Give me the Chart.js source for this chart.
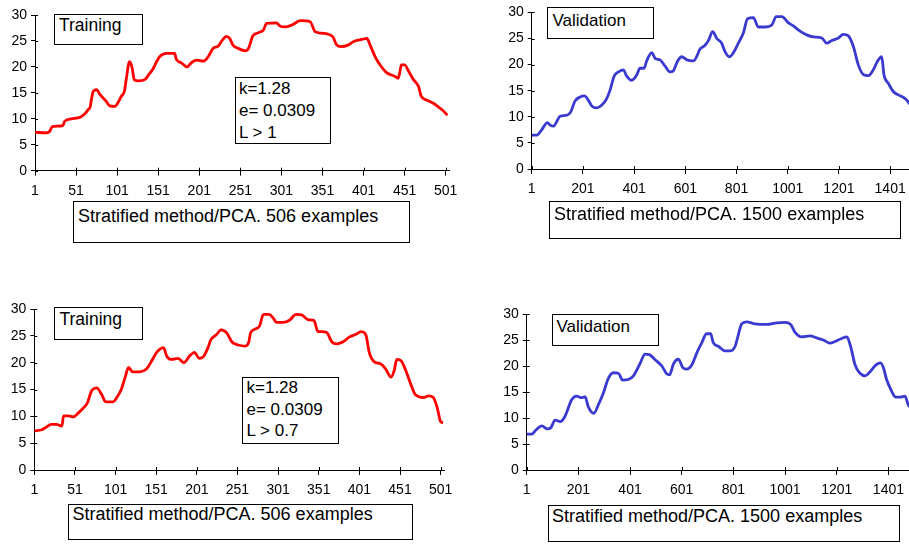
<!DOCTYPE html>
<html>
<head>
<meta charset="utf-8">
<script src="https://cdn.jsdelivr.net/npm/chart.js@4"></script>
<style>
body { margin: 0; width: 909px; height: 545px; overflow: hidden; background: #fff; position: relative; font-family: "Liberation Sans", Arial, sans-serif; }
canvas { position: absolute; left: 0; top: 0; }
.box { position: absolute; border: 1px solid #000; background: #fff; box-sizing: border-box; }
.txt { position: absolute; white-space: pre; color: #000; }
</style>
</head>
<body>
<canvas id="c1" width="960" height="545"></canvas>
<canvas id="c2" width="960" height="545"></canvas>
<canvas id="c3" width="960" height="545"></canvas>
<canvas id="c4" width="960" height="545"></canvas>
<script>
// tick labels
const trainTicks = [1, 51, 101, 151, 201, 251, 301, 351, 401, 451, 501];
const validTicks = [1, 201, 401, 601, 801, 1001, 1201, 1401];
const yTicksMax = 30;

// top left: training, L > 1
const trainX1 = [1, 15, 19, 22, 35, 37, 45, 56, 62, 66, 68, 70, 72, 76, 80, 88, 92, 98, 102, 106, 110, 112, 116, 119, 122, 127, 135, 139, 145, 149, 153, 161, 171, 173, 180, 186, 192, 198, 206, 212, 218, 224, 228, 234, 238, 242, 248, 257, 261, 266, 273, 279, 283, 295, 299, 305, 314, 324, 336, 342, 350, 358, 364, 368, 374, 382, 389, 399, 405, 409, 415, 421, 429, 439, 443, 445, 447, 451, 456, 462, 468, 471, 478, 486, 492, 497, 503];
const trainY1 = [7.4, 7.3, 7.6, 8.5, 8.7, 9.5, 10.0, 10.3, 11.0, 11.8, 12.2, 14.0, 15.3, 15.6, 14.7, 13.3, 12.5, 12.4, 13.1, 14.3, 15.4, 17.5, 21.0, 20.0, 17.5, 17.3, 17.6, 18.4, 19.7, 21.0, 22.0, 22.6, 22.6, 21.5, 20.7, 20.0, 20.9, 21.3, 21.1, 22.0, 23.6, 24.0, 24.9, 25.9, 25.5, 24.2, 23.6, 23.1, 23.6, 25.9, 26.6, 27.1, 28.4, 28.5, 27.9, 27.7, 28.1, 28.9, 28.7, 26.8, 26.5, 26.3, 25.7, 24.3, 23.9, 24.2, 24.9, 25.3, 25.5, 24.2, 22.0, 20.4, 18.9, 18.2, 17.8, 18.8, 20.4, 20.4, 19.1, 17.5, 16.2, 14.4, 13.6, 13.0, 12.3, 11.7, 10.7];

// top right: validation
const validX1 = [1, 21, 40, 62, 73, 86, 112, 138, 153, 170, 190, 207, 222, 235, 255, 274, 294, 307, 323, 340, 359, 372, 392, 411, 424, 440, 450, 470, 483, 502, 522, 541, 554, 570, 587, 607, 633, 648, 656, 678, 691, 708, 724, 743, 756, 773, 789, 808, 828, 844, 867, 886, 913, 939, 956, 978, 1004, 1023, 1049, 1075, 1101, 1134, 1153, 1173, 1199, 1218, 1238, 1257, 1277, 1296, 1316, 1335, 1351, 1368, 1377, 1394, 1414, 1433, 1453, 1466, 1475, 1485];
const validY1 = [6.5, 6.5, 7.5, 8.9, 8.4, 8.2, 10.1, 10.3, 10.9, 13.0, 13.8, 14.0, 13.2, 12.1, 11.7, 12.2, 13.5, 15.1, 17.8, 18.6, 19.0, 17.8, 17.0, 18.0, 19.3, 19.3, 20.7, 22.3, 21.2, 20.9, 19.7, 18.6, 18.8, 20.6, 21.5, 20.9, 20.7, 21.8, 22.8, 23.7, 24.6, 26.3, 25.0, 24.1, 22.5, 21.5, 22.3, 24.1, 26.1, 28.8, 29.0, 27.2, 27.2, 27.6, 29.2, 29.2, 28.0, 27.4, 26.4, 25.7, 25.3, 25.1, 24.1, 24.6, 25.1, 25.8, 25.5, 23.5, 19.9, 18.1, 17.9, 19.0, 20.6, 21.5, 18.0, 16.4, 14.8, 14.2, 13.7, 13.2, 12.6, 12.2];

// bottom left: training, L > 0.7
const trainX2 = [1, 10, 16, 22, 28, 35, 37, 43, 49, 55, 61, 66, 72, 78, 84, 89, 98, 102, 108, 113, 117, 122, 131, 139, 145, 152, 160, 164, 170, 178, 185, 193, 198, 204, 209, 215, 218, 225, 231, 238, 244, 252, 260, 265, 267, 272, 278, 283, 290, 295, 299, 307, 315, 323, 330, 338, 345, 350, 355, 361, 367, 373, 381, 389, 397, 403, 409, 413, 419, 427, 433, 440, 444, 447, 452, 458, 464, 470, 480, 486, 492, 497, 501, 504];
const trainY2 = [7.3, 7.5, 8.0, 8.5, 8.5, 8.2, 10.1, 10.1, 9.9, 10.6, 11.5, 12.4, 14.9, 15.3, 14.0, 12.7, 12.7, 13.4, 15.0, 17.4, 19.1, 18.3, 18.3, 18.8, 20.2, 22.0, 22.8, 21.2, 20.6, 20.8, 20.0, 21.4, 21.9, 20.8, 21.1, 22.9, 24.2, 25.2, 26.1, 25.5, 23.9, 23.3, 23.1, 23.9, 25.5, 26.2, 26.8, 29.0, 29.0, 28.3, 27.5, 27.5, 27.9, 29.0, 28.9, 28.0, 27.9, 25.8, 25.8, 25.6, 23.9, 23.5, 23.9, 24.8, 25.3, 25.8, 25.2, 22.0, 20.2, 19.8, 18.9, 17.3, 18.6, 20.6, 20.4, 18.6, 16.1, 14.0, 13.5, 13.8, 13.5, 11.5, 9.0, 8.8];

// bottom right: validation
const validX2 = [1, 20, 37, 59, 81, 94, 111, 130, 149, 175, 194, 214, 227, 239, 261, 278, 297, 317, 336, 356, 372, 394, 414, 440, 459, 476, 498, 524, 543, 554, 569, 588, 605, 620, 640, 662, 678, 697, 713, 723, 743, 769, 788, 807, 820, 833, 852, 885, 930, 969, 1001, 1024, 1039, 1065, 1097, 1123, 1149, 1175, 1194, 1220, 1240, 1255, 1272, 1291, 1311, 1330, 1353, 1371, 1382, 1394, 1411, 1430, 1448, 1465, 1478, 1490];
const validY2 = [6.9, 6.9, 7.7, 8.5, 7.9, 8.1, 9.6, 9.3, 10.3, 13.5, 14.2, 13.9, 14.1, 12.2, 10.9, 12.5, 14.7, 17.6, 18.7, 18.6, 17.3, 17.4, 18.1, 20.5, 22.3, 22.2, 21.2, 20.0, 18.5, 18.3, 20.4, 21.3, 19.7, 19.4, 20.2, 22.8, 24.4, 26.2, 26.2, 24.5, 23.8, 22.9, 22.9, 23.7, 26.0, 28.1, 28.5, 28.1, 28.0, 28.3, 28.4, 27.9, 26.5, 25.6, 25.8, 25.4, 25.0, 24.4, 24.7, 25.3, 25.6, 23.7, 20.2, 18.6, 18.1, 18.9, 20.2, 20.6, 19.6, 17.4, 15.4, 14.0, 14.0, 14.2, 12.5, 12.0];

const statsTop = ['k=1.28', 'e= 0.0309', 'L > 1'];
const statsBottom = ['k=1.28', 'e= 0.0309', 'L > 0.7'];

Chart.defaults.font.family = '"Liberation Sans", Arial, sans-serif';
Chart.defaults.color = '#000';

// excel style tick marks that cross the axis (inner half)
const crossTicks = {
    id: 'crossTicks',
    afterDraw(chart) {
        const ctx = chart.ctx, a = chart.chartArea;
        const xs = chart.scales.x, ys = chart.scales.y;
        ctx.save();
        ctx.strokeStyle = '#000';
        ctx.lineWidth = 1;
        ctx.beginPath();
        xs.ticks.forEach(t => {
            const px = Math.round(xs.getPixelForValue(t.value)) + 0.5;
            ctx.moveTo(px, a.bottom - 3);
            ctx.lineTo(px, a.bottom);
        });
        ys.ticks.forEach(t => {
            const py = Math.round(ys.getPixelForValue(t.value)) + 0.5;
            ctx.moveTo(a.left, py);
            ctx.lineTo(a.left + 3, py);
        });
        ctx.stroke();
        ctx.restore();
    }
};

function makePanel(id, area, xs, ys, xTicks, xMax, color) {
    const yW = 30, xH = 30, W = 960, H = 545;
    new Chart(document.getElementById(id), {
        type: 'line',
        data: {
            datasets: [{
                data: xs.map((x, i) => ({ x: x, y: ys[i] })),
                borderColor: color,
                borderWidth: 2.8,
                pointRadius: 0,
                cubicInterpolationMode: 'monotone',
                fill: false
            }]
        },
        options: {
            responsive: false,
            animation: false,
            events: [],
            layout: {
                padding: { left: area.left - yW, top: area.top, right: W - area.right, bottom: H - area.bottom - xH }
            },
            plugins: { legend: { display: false }, tooltip: { enabled: false } },
            scales: {
                x: {
                    type: 'linear', min: 1, max: xMax,
                    afterFit: s => { s.height = xH; },
                    afterBuildTicks: s => { s.ticks = xTicks.map(v => ({ value: v })); },
                    grid: { drawOnChartArea: false, color: '#000', tickLength: 5 },
                    border: { color: '#000' },
                    ticks: { autoSkip: false, maxRotation: 0, padding: 7, font: { size: 14 }, callback: v => String(v) }
                },
                y: {
                    min: 0, max: yTicksMax,
                    afterFit: s => { s.width = yW; },
                    grid: { drawOnChartArea: false, color: '#000', tickLength: 4 },
                    border: { color: '#000' },
                    ticks: { stepSize: 5, padding: 4, font: { size: 14 } }
                }
            }
        },
        plugins: [crossTicks]
    });
}

makePanel('c1', { left: 35, right: 449.8, top: 15, bottom: 170.7 }, trainX1, trainY1, trainTicks, 506, '#ff0000');
makePanel('c2', { left: 531.7, right: 915.5, top: 12.3, bottom: 169 }, validX1, validY1, validTicks, 1500, '#3a3ad0');
makePanel('c3', { left: 34.3, right: 444.7, top: 309, bottom: 470 }, trainX2, trainY2, trainTicks, 506, '#ff0000');
makePanel('c4', { left: 526.7, right: 914, top: 314, bottom: 470 }, validX2, validY2, validTicks, 1500, '#3a3ad0');

// text boxes: box rect, text left, first baseline, line gap, font size
function addBox(b, lines) {
    const d = document.createElement('div');
    d.className = 'box';
    d.style.left = b.x + 'px'; d.style.top = b.y + 'px';
    d.style.width = b.w + 'px'; d.style.height = b.h + 'px';
    document.body.appendChild(d);
    lines.forEach((t, i) => {
        const s = document.createElement('div');
        s.className = 'txt';
        s.textContent = t;
        s.style.fontSize = b.fs + 'px';
        s.style.lineHeight = (b.fs * 1.117) + 'px';
        s.style.left = b.tx + 'px';
        s.style.top = (b.base + i * (b.gap || 0) - 0.905 * b.fs) + 'px';
        document.body.appendChild(s);
    });
}

addBox({ x: 54, y: 14, w: 89, h: 31, tx: 59, base: 31.7, fs: 17.5 }, ['Training']);
addBox({ x: 235, y: 77, w: 96, h: 67, tx: 239, base: 94, gap: 22, fs: 17 }, statsTop);
addBox({ x: 73, y: 201, w: 337, h: 42, tx: 78, base: 222.7, fs: 18 }, ['Stratified method/PCA. 506 examples']);

addBox({ x: 547, y: 7, w: 107, h: 32, tx: 552.5, base: 26.7, fs: 17 }, ['Validation']);
addBox({ x: 549, y: 201, w: 352, h: 38, tx: 554, base: 220, fs: 18 }, ['Stratified method/PCA. 1500 examples']);

addBox({ x: 54, y: 307, w: 89, h: 33, tx: 59.5, base: 326, fs: 17.5 }, ['Training']);
addBox({ x: 242, y: 377, w: 97, h: 67, tx: 246.5, base: 393.3, gap: 21.7, fs: 17 }, statsBottom);
addBox({ x: 67.5, y: 504, w: 345, h: 36, tx: 72.5, base: 520.7, fs: 18 }, ['Stratified method/PCA. 506 examples']);

addBox({ x: 551.5, y: 314, w: 107, h: 32, tx: 556.5, base: 332.3, fs: 17 }, ['Validation']);
addBox({ x: 547.5, y: 505, w: 352, h: 37, tx: 552, base: 522.3, fs: 18 }, ['Stratified method/PCA. 1500 examples']);
</script>
</body>
</html>
